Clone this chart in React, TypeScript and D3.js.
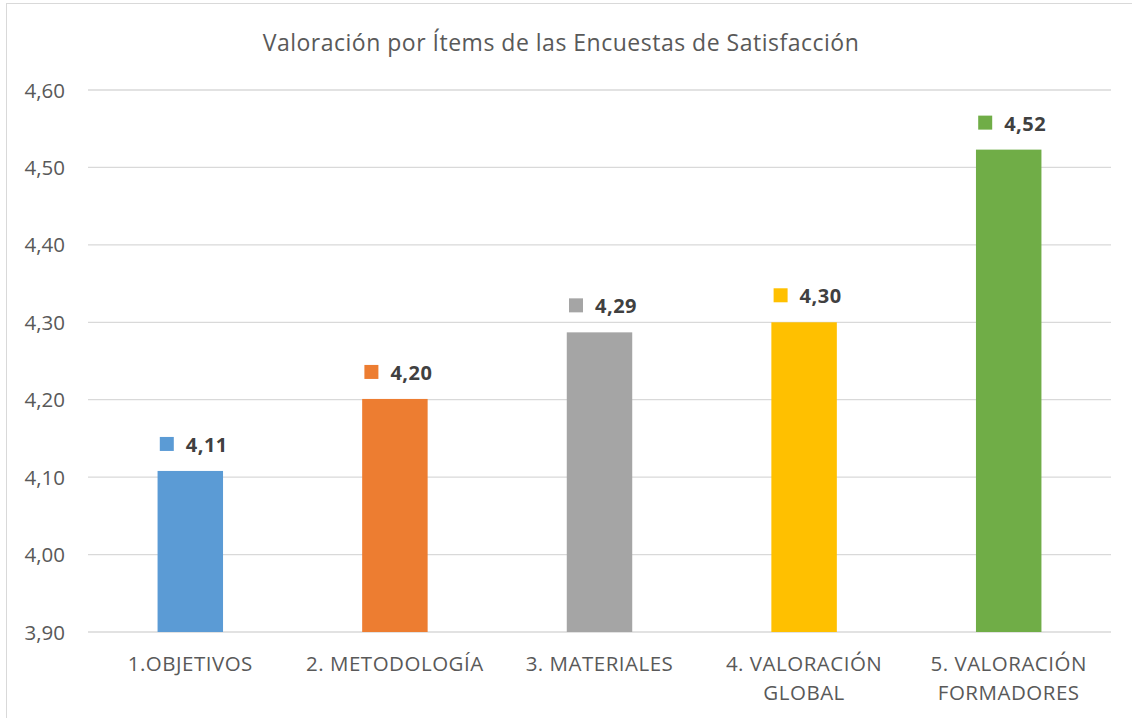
import React from "react";
import * as d3 from "d3";

const categories: string[][] = [
  ["1.OBJETIVOS"],
  ["2. METODOLOGÍA"],
  ["3. MATERIALES"],
  ["4. VALORACIÓN", "GLOBAL"],
  ["5. VALORACIÓN", "FORMADORES"],
];
const values: number[] = [4.108, 4.201, 4.287, 4.3, 4.523];
const colors: string[] = ["#5b9bd5", "#ed7d31", "#a5a5a5", "#ffc000", "#70ad47"];
const yTicks: number[] = [3.9, 4.0, 4.1, 4.2, 4.3, 4.4, 4.5, 4.6];
const title = "Valoración por Ítems de las Encuestas de Satisfacción";

const W = 1132;
const H = 718;
const FONT = "'Open Sans', 'Noto Sans', sans-serif";

export default function App() {
  const left = 88;
  const right = 1111;
  const top = 90;
  const bottom = 632;
  const x = d3
    .scaleBand<number>()
    .domain(values.map((_, i) => i))
    .range([left, right])
    .paddingInner(0.68)
    .paddingOuter(0.34);
  const y = d3.scaleLinear().domain([3.9, 4.6]).range([bottom, top]);
  const fmt = (v: number) => d3.format(".2f")(v).replace(".", ",");

  return (
    <svg
      width={W}
      height={H}
      style={{ position: "absolute", left: 0, top: 0, background: "#fff" }}
      fontFamily={FONT}
    >
      <rect x={0} y={0} width={W} height={H} fill="#fff" />
      <rect x={6.5} y={3.5} width={W + 10} height={H + 10} fill="none" stroke="#d9d9d9" strokeWidth={1} />
      <text x={561} y={51} textAnchor="middle" fontSize={23} letterSpacing={0.5} fill="#595959">
        {title}
      </text>
      {yTicks.map((t) => (
        <g key={t}>
          <line x1={left} x2={right} y1={y(t)} y2={y(t)} stroke="#d9d9d9" strokeWidth={1.3} />
          <text x={65} y={y(t) + 7.5} textAnchor="end" fontSize={20.5} fill="#595959">
            {fmt(t)}
          </text>
        </g>
      ))}
      {values.map((v, i) => {
        const bx = x(i)!;
        const bw = x.bandwidth();
        const cx = bx + bw / 2;
        const by = y(v);
        return (
          <g key={i}>
            <rect x={bx} y={by} width={bw} height={bottom - by} fill={colors[i]} />
            <rect x={cx - 30.5} y={by - 34} width={14} height={14} fill={colors[i]} />
            <text x={cx - 4.5} y={by - 19} fontSize={20} letterSpacing={0.5} fontWeight="bold" fill="#404040">
              {fmt(v)}
            </text>
            {categories[i].map((line, j) => (
              <text
                key={j}
                x={cx}
                y={671 + j * 29}
                textAnchor="middle"
                fontSize={20.5}
                letterSpacing={0.5}
                fill="#595959"
              >
                {line}
              </text>
            ))}
          </g>
        );
      })}
    </svg>
  );
}
